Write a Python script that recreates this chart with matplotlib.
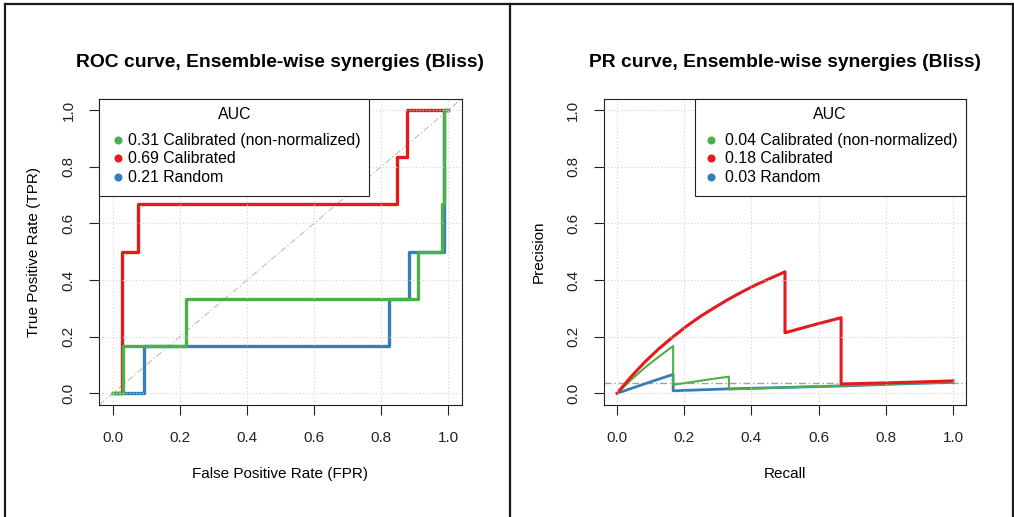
import matplotlib
matplotlib.use("Agg")
import matplotlib.pyplot as plt
from matplotlib.lines import Line2D
from matplotlib.patches import Rectangle

plt.rcParams['font.family'] = ['Liberation Sans', 'DejaVu Sans']

# ---------------- data ----------------
colors = {"green": "#4DAF4A", "red": "#E41A1C", "blue": "#377EB8"}

roc_fpr_green = [0.0, 0.032, 0.032, 0.217, 0.217, 0.910, 0.910, 0.981, 0.981, 0.987, 0.987, 1.0]
roc_tpr_green = [0.0, 0.0, 0.167, 0.167, 0.333, 0.333, 0.5, 0.5, 0.667, 0.667, 1.0, 1.0]
roc_fpr_red = [0.0, 0.027, 0.027, 0.076, 0.076, 0.848, 0.848, 0.878, 0.878, 0.985, 1.0]
roc_tpr_red = [0.0, 0.0, 0.5, 0.5, 0.667, 0.667, 0.833, 0.833, 1.0, 1.0, 1.0]
roc_fpr_blue = [0.0, 0.094, 0.094, 0.823, 0.823, 0.884, 0.884, 0.988, 0.988, 1.0]
roc_tpr_blue = [0.0, 0.0, 0.167, 0.167, 0.333, 0.333, 0.5, 0.5, 1.0, 1.0]

pr_rec_red = [0.0, 0.042, 0.083, 0.125, 0.167, 0.208, 0.25, 0.292, 0.333, 0.375,
              0.417, 0.458, 0.5, 0.5, 0.583, 0.667, 0.667, 0.833, 1.0]
pr_prec_red = [0.0, 0.059, 0.111, 0.158, 0.2, 0.238, 0.273, 0.304, 0.333, 0.36,
               0.385, 0.407, 0.429, 0.214, 0.241, 0.267, 0.033, 0.038, 0.044]
pr_rec_green = [0.0, 0.042, 0.083, 0.125, 0.167, 0.167, 0.25, 0.333, 0.333, 0.5, 0.667, 0.833, 1.0]
pr_prec_green = [0.0, 0.048, 0.091, 0.13, 0.167, 0.03, 0.045, 0.059, 0.014, 0.021, 0.027, 0.034, 0.04]
pr_rec_blue = [0.0, 0.083, 0.167, 0.167, 0.333, 0.5, 0.667, 0.833, 1.0]
pr_prec_blue = [0.0, 0.034, 0.067, 0.009, 0.016, 0.021, 0.026, 0.033, 0.039]
pr_baseline = 0.038

roc_auc_labels = ["0.31 Calibrated (non-normalized)", "0.69 Calibrated", "0.21 Random"]
pr_auc_labels = ["0.04 Calibrated (non-normalized)", "0.18 Calibrated", "0.03 Random"]
legend_colors = [colors["green"], colors["red"], colors["blue"]]

ticks = [0.0, 0.2, 0.4, 0.6, 0.8, 1.0]
tick_labels = ["0.0", "0.2", "0.4", "0.6", "0.8", "1.0"]

# ---------------- figure ----------------
W, H = 1014, 517
fig = plt.figure(figsize=(W / 100, H / 100), dpi=100)

FS = 11
LFS = 11.4
ax_bottom = 1 - 404.7 / H
ax_h = 306 / H
ax1 = fig.add_axes([99.3 / W, ax_bottom, 362.4 / W, ax_h])
ax2 = fig.add_axes([603.6 / W, ax_bottom, 362.8 / W, ax_h])


def style_axes(ax, title, xlabel, ylabel, ylab_x):
    ax.set_xlim(-0.04, 1.04)
    ax.set_ylim(-0.04, 1.04)
    ax.set_xticks(ticks)
    ax.set_xticklabels(tick_labels)
    ax.set_yticks(ticks)
    ax.set_yticklabels(tick_labels, rotation=90, va="center")
    ax.tick_params(length=7, width=0.8, labelsize=FS, colors="#222222")
    ax.tick_params(axis="x", pad=12)
    ax.tick_params(axis="y", pad=10)
    for s in ax.spines.values():
        s.set_linewidth(0.8)
        s.set_color("#222222")
    ax.set_axisbelow(False)
    ax.grid(True, linestyle=(0, (1, 2)), color="#d3d3d3", linewidth=0.8)
    ax.set_xlabel(xlabel, fontsize=FS, va="center")
    ax.xaxis.set_label_coords(0.5, -0.225)
    ax.set_ylabel(ylabel, fontsize=FS, va="center", ha="center")
    ax.yaxis.set_label_coords(ylab_x, 0.5)
    ax.set_title(title, fontsize=13.9, fontweight="bold", y=1.09, va="center")


def draw_legend(ax, x0, x1, title_x, dot_x, text_x, labels):
    ax.add_patch(Rectangle((x0, 0.682), x1 - x0, 1 - 0.682, transform=ax.transAxes,
                           facecolor="white", edgecolor="#222222", linewidth=0.8,
                           zorder=5, clip_on=False))
    ax.text(title_x, 0.948, "AUC", transform=ax.transAxes, ha="center", va="center",
            fontsize=LFS, zorder=6)
    ys = [0.865, 0.805, 0.743]
    for lab, col, y in zip(labels, legend_colors, ys):
        ax.plot([dot_x], [y], marker="o", ms=4.8, color=col, transform=ax.transAxes,
                zorder=6, clip_on=False, linestyle="none")
        ax.text(text_x, y, lab, transform=ax.transAxes, ha="left", va="center",
                fontsize=LFS, zorder=6)


# ROC
style_axes(ax1, "ROC curve, Ensemble-wise synergies (Bliss)",
           "False Positive Rate (FPR)", "True Positive Rate (TPR)", -0.18)
ax1.plot([-0.04, 1.04], [-0.04, 1.04], color="#c4c4c4", lw=0.9,
         linestyle=(0, (5, 2, 1, 2)), zorder=1)
ax1.plot(roc_fpr_blue, roc_tpr_blue, color=colors["blue"], lw=2.4, zorder=2)
ax1.plot(roc_fpr_red, roc_tpr_red, color=colors["red"], lw=2.4, zorder=2)
ax1.plot(roc_fpr_green, roc_tpr_green, color=colors["green"], lw=2.4, zorder=2)
draw_legend(ax1, 0.0, 0.745, 0.3745, 0.0524, 0.080, roc_auc_labels)

# PR
style_axes(ax2, "PR curve, Ensemble-wise synergies (Bliss)",
           "Recall", "Precision", -0.18)
ax2.axhline(pr_baseline, color="#a0a0a0", lw=1.0, linestyle=(0, (5, 2, 1, 2)), zorder=1)
ax2.plot(pr_rec_blue, pr_prec_blue, color=colors["blue"], lw=2.0, zorder=2)
ax2.plot(pr_rec_green, pr_prec_green, color=colors["green"], lw=1.5, zorder=2)
ax2.plot(pr_rec_red, pr_prec_red, color=colors["red"], lw=2.2, zorder=2)
draw_legend(ax2, 0.2528, 1.0, 0.624, 0.295, 0.3346, pr_auc_labels)

# panel frames
def fline(x0, y0, x1, y1):
    fig.add_artist(Line2D([x0 / W, x1 / W], [1 - y0 / H, 1 - y1 / H],
                          color="#1a1a1a", lw=1.6, transform=fig.transFigure))

fline(5, 4, 1013, 4)
fline(5, 4, 5, 517)
fline(510, 4, 510, 517)
fline(1013, 4, 1013, 517)

fig.savefig("out.png", dpi=100)
